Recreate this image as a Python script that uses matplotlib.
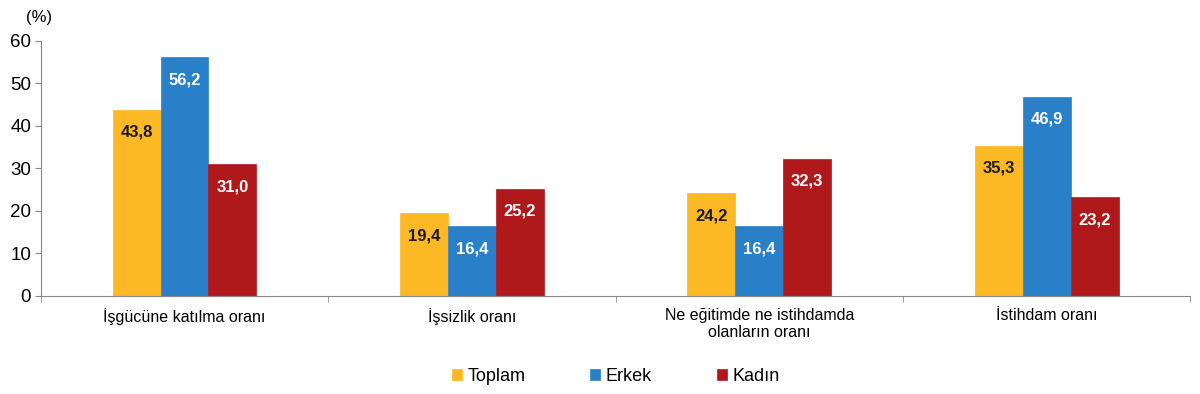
import matplotlib
matplotlib.use("Agg")
import matplotlib.pyplot as plt
import numpy as np

plt.rcParams["font.family"] = ["Liberation Sans", "DejaVu Sans"]

categories = [
    "İşgücüne katılma oranı",
    "İşsizlik oranı",
    "Ne eğitimde ne istihdamda\nolanların oranı",
    "İstihdam oranı",
]
series_names = ["Toplam", "Erkek", "Kadın"]
toplam = [43.8, 19.4, 24.2, 35.3]
erkek = [56.2, 16.4, 16.4, 46.9]
kadin = [31.0, 25.2, 32.3, 23.2]

colors = ["#FDB825", "#2A7FC9", "#B0191C"]
text_colors = ["#1a1a1a", "white", "white"]

fig = plt.figure(figsize=(12, 3.94), dpi=100)
ax = fig.add_axes([0.034, 0.249, 0.958, 0.647])

x = np.arange(len(categories))
w = 0.167
for i, (vals, name) in enumerate(zip([toplam, erkek, kadin], series_names)):
    pos = x + (i - 1) * w
    bars = ax.bar(pos, vals, width=w, color=colors[i], label=name,
                  edgecolor=colors[i], linewidth=0.5)
    for b, v in zip(bars, vals):
        ax.text(b.get_x() + b.get_width() / 2, v - 5.3,
                f"{v:.1f}".replace(".", ","), ha="center", va="center",
                fontsize=12, fontweight="bold", color=text_colors[i])

ax.set_xlim(-0.5, 3.5)
ax.set_ylim(0, 60)
ax.set_yticks(range(0, 61, 10))
ax.tick_params(axis="y", labelsize=13.5, length=4, color="#888888", pad=3)
ax.set_xticks(x)
ax.set_xticklabels(categories, fontsize=11.5, linespacing=1.1)
ax.tick_params(axis="x", length=0, pad=9)
ax.set_xticks(np.arange(-0.5, 4.0, 1.0), minor=True)
ax.tick_params(axis="x", which="minor", length=4, color="#888888")
for s in ["top", "right"]:
    ax.spines[s].set_visible(False)
for s in ["left", "bottom"]:
    ax.spines[s].set_color("#888888")

fig.text(0.022, 0.955, "(%)", fontsize=12, ha="left", va="center")

ax.legend(loc="center", bbox_to_anchor=(0.5, -0.315), ncol=3,
          frameon=False, fontsize=13, handlelength=0.55, handleheight=0.55,
          handletextpad=0.3, columnspacing=3.6)

fig.savefig("out.png", dpi=100)
